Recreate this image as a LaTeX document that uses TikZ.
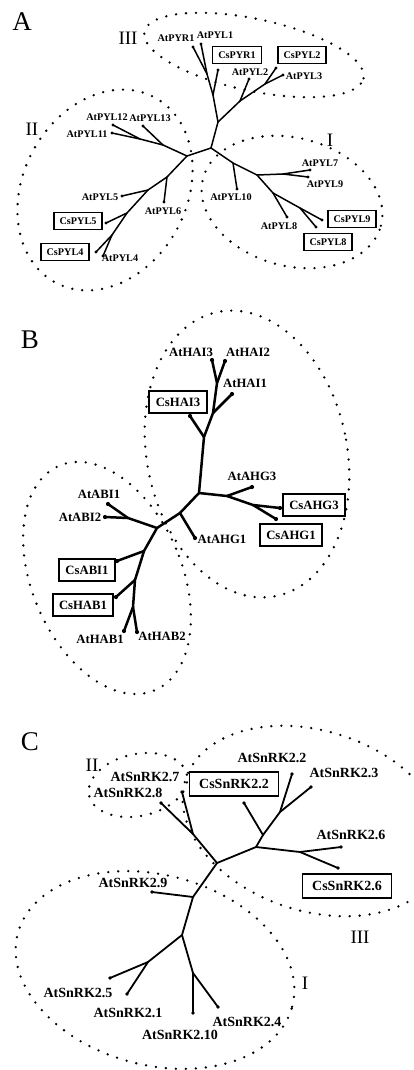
\documentclass[tikz,border=0pt]{standalone}
\usepackage{fontspec}
\setmainfont{Liberation Serif}
\begin{document}
\begin{tikzpicture}[x=1pt,y=-1pt,
  dotring/.style={line width=2.6pt, dash pattern=on 0pt off 10pt, line cap=round},
  brA/.style={line width=1.5pt, line cap=round, line join=round},
  brB/.style={line width=2.5pt, line cap=round, line join=round},
  brC/.style={line width=1.8pt, line cap=round, line join=round},
  panel/.style={inner sep=0pt, font=\fontsize{27}{27}\selectfont},
  roman/.style={inner sep=0pt, font=\fontsize{19}{19}\selectfont},
  labA/.style={inner sep=0pt, font=\fontsize{10.2}{11}\selectfont\bfseries},
  boxA/.style={labA, draw, line width=1.2pt, inner xsep=5.5pt, minimum height=17pt},
  labB/.style={inner sep=0pt, font=\fontsize{12.7}{14}\selectfont\bfseries},
  boxB/.style={labB, draw, line width=2pt, inner xsep=6.5pt, minimum height=22pt},
  labC/.style={inner sep=0pt, font=\fontsize{14}{16}\selectfont\bfseries},
  boxC/.style={labC, draw, line width=1.5pt, inner xsep=9.5pt, minimum height=24pt}
]
\useasboundingbox (0,0) rectangle (414,1070);

% ================= Panel A =================
\node[panel] (pA) at (22,22) {A};
\draw[dotring, rotate around={-12:(254,55)}] (254,55) ellipse [x radius=112pt, y radius=36pt];
\draw[dotring, rotate around={-28:(105,190)}] (105,190) ellipse [x radius=82pt, y radius=105pt];
\draw[dotring, rotate around={-15:(292,202)}] (292,202) ellipse [x radius=92pt, y radius=64pt];
\node[roman] (rA3) at (128,38) {III};
\node[roman] (rA2) at (32,129) {II};
\node[roman] (rA1) at (330,140) {I};

% tips
\coordinate (tPYR1) at (193,47);
\coordinate (tPYL1) at (201,44);
\coordinate (tCsPYR1) at (218,70);
\coordinate (tPYL2) at (249,79);
\coordinate (tCsPYL2) at (276,68);
\coordinate (tPYL3) at (283,75);
\coordinate (tPYL10) at (237,189);
\coordinate (tPYL7) at (310,170);
\coordinate (tPYL9) at (308,177);
\coordinate (tPYL8) at (287,217);
\coordinate (tCsPYL9) at (322,220);
\coordinate (tCsPYL8) at (316,227);
\coordinate (tPYL13) at (143,126);
\coordinate (tPYL11) at (112,133);
\coordinate (tPYL12) at (113,125);
\coordinate (tPYL6) at (164,202);
\coordinate (tPYL5) at (122,196);
\coordinate (tCsPYL5) at (106,223);
\coordinate (tCsPYL4) at (96,252);
\coordinate (tPYL4) at (103,256);
% internal
\coordinate (A1) at (207,74);
\coordinate (A2) at (213,95);
\coordinate (A3) at (218,122);
\coordinate (A4) at (240,101);
\coordinate (A5) at (265,84);
\coordinate (A6) at (211,148);
\coordinate (A7) at (187,156);
\coordinate (R1) at (233,163);
\coordinate (R2) at (257,175);
\coordinate (R3) at (283,174);
\coordinate (R4) at (273,193);
\coordinate (R5) at (300,208);
\coordinate (L1) at (163,145);
\coordinate (L2) at (140,139);
\coordinate (D1) at (167,177);
\coordinate (D2) at (148,190);
\coordinate (D3) at (127,213);
\coordinate (D4) at (112,235);

\draw[brA] (tPYR1) -- (A1) -- (A2) -- (A3) -- (A6) -- (A7);
\draw[brA] (tPYL1) -- (A1);
\draw[brA] (tCsPYR1) -- (A2);
\draw[brA] (A3) -- (A4) -- (A5) -- (tCsPYL2);
\draw[brA] (A4) -- (tPYL2);
\draw[brA] (A5) -- (tPYL3);
\draw[brA] (A6) -- (R1) -- (R2) -- (R4) -- (R5) -- (tCsPYL9);
\draw[brA] (R1) -- (tPYL10);
\draw[brA] (R2) -- (R3) -- (tPYL7);
\draw[brA] (R3) -- (tPYL9);
\draw[brA] (R4) -- (tPYL8);
\draw[brA] (R5) -- (tCsPYL8);
\draw[brA] (A7) -- (L1) -- (L2) -- (tPYL11);
\draw[brA] (L1) -- (tPYL13);
\draw[brA] (L2) -- (tPYL12);
\draw[brA] (A7) -- (D1) -- (D2) -- (D3) -- (D4) -- (tCsPYL4);
\draw[brA] (D1) -- (tPYL6);
\draw[brA] (D2) -- (tPYL5);
\draw[brA] (D3) -- (tCsPYL5);
\draw[brA] (D4) -- (tPYL4);
\foreach \t in {tPYR1,tPYL1,tCsPYR1,tPYL2,tCsPYL2,tPYL3,tPYL10,tPYL7,tPYL9,tPYL8,tCsPYL9,tCsPYL8,tPYL13,tPYL11,tPYL12,tPYL6,tPYL5,tCsPYL5,tCsPYL4,tPYL4}
  \fill (\t) circle (1.6pt);

\node[labA] (nPYR1) at (176,38) {AtPYR1};
\node[labA] (nPYL1) at (215,35) {AtPYL1};
\node[boxA] (nCsPYR1) at (237,55) {CsPYR1};
\node[boxA] (nCsPYL2) at (302,55) {CsPYL2};
\node[labA] (nPYL2) at (250,72) {AtPYL2};
\node[labA] (nPYL3) at (304,76) {AtPYL3};
\node[labA] (nPYL12) at (107,117) {AtPYL12};
\node[labA] (nPYL13) at (150,118) {AtPYL13};
\node[labA] (nPYL11) at (87,134) {AtPYL11};
\node[labA] (nPYL7) at (320,163) {AtPYL7};
\node[labA] (nPYL9) at (325,184) {AtPYL9};
\node[labA] (nPYL10) at (231,197) {AtPYL10};
\node[labA] (nPYL8) at (279,226) {AtPYL8};
\node[boxA] (nCsPYL9) at (352,219) {CsPYL9};
\node[boxA] (nCsPYL8) at (328,242) {CsPYL8};
\node[labA] (nPYL5) at (100,197) {AtPYL5};
\node[labA] (nPYL6) at (163,211) {AtPYL6};
\node[boxA] (nCsPYL5) at (78,221) {CsPYL5};
\node[boxA] (nCsPYL4) at (65,252) {CsPYL4};
\node[labA] (nPYL4) at (120,258) {AtPYL4};

% ================= Panel B =================
\node[panel] (pB) at (30,340) {B};
\draw[dotring, rotate around={11.8:(247,454)}] (247,454) ellipse [x radius=100pt, y radius=145pt];
\draw[dotring, rotate around={23:(107,578)}] (107,578) ellipse [x radius=75pt, y radius=122pt];

\coordinate (tHAI3) at (212,360);
\coordinate (tHAI2) at (225,361);
\coordinate (tHAI1) at (232,394);
\coordinate (tCsHAI3) at (190,416);
\coordinate (tAHG3) at (252,487);
\coordinate (tCsAHG3) at (280,508);
\coordinate (tCsAHG1) at (276,519);
\coordinate (tAHG1) at (195,538);
\coordinate (tABI1) at (108,504);
\coordinate (tABI2) at (105,517);
\coordinate (tCsABI1) at (117,561);
\coordinate (tCsHAB1) at (116,597);
\coordinate (tHAB1) at (124,631);
\coordinate (tHAB2) at (137,632);
\coordinate (B1) at (217,383);
\coordinate (B2) at (213,413);
\coordinate (B3) at (204,437);
\coordinate (B4) at (199,493);
\coordinate (B5) at (227,496);
\coordinate (B6) at (253,505);
\coordinate (B7) at (180,513);
\coordinate (B8) at (157,528);
\coordinate (B9) at (128,518);
\coordinate (B10) at (144,551);
\coordinate (B11) at (135,580);
\coordinate (B12) at (133,607);

\draw[brB] (tHAI3) -- (B1) -- (B2) -- (B3) -- (B4) -- (B7) -- (B8) -- (B10) -- (B11) -- (B12) -- (tHAB1);
\draw[brB] (tHAI2) -- (B1);
\draw[brB] (B2) -- (tHAI1);
\draw[brB] (B3) -- (tCsHAI3);
\draw[brB] (B4) -- (B5) -- (B6) -- (tCsAHG3);
\draw[brB] (B5) -- (tAHG3);
\draw[brB] (B6) -- (tCsAHG1);
\draw[brB] (B7) -- (tAHG1);
\draw[brB] (B8) -- (B9) -- (tABI1);
\draw[brB] (B9) -- (tABI2);
\draw[brB] (B10) -- (tCsABI1);
\draw[brB] (B11) -- (tCsHAB1);
\draw[brB] (B12) -- (tHAB2);
\foreach \t in {tHAI3,tHAI2,tHAI1,tCsHAI3,tAHG3,tCsAHG3,tCsAHG1,tAHG1,tABI1,tABI2,tCsABI1,tCsHAB1,tHAB1,tHAB2}
  \fill (\t) circle (2.1pt);

\node[labB] (nHAI3) at (191,352) {AtHAI3};
\node[labB] (nHAI2) at (248,352) {AtHAI2};
\node[labB] (nHAI1) at (245,383) {AtHAI1};
\node[boxB] (nCsHAI3) at (178,402) {CsHAI3};
\node[labB] (nAHG3) at (252,476) {AtAHG3};
\node[boxB] (nCsAHG3) at (314,505) {CsAHG3};
\node[boxB] (nCsAHG1) at (291,535) {CsAHG1};
\node[labB] (nAHG1) at (222,539) {AtAHG1};
\node[labB] (nABI1) at (99,494) {AtABI1};
\node[labB] (nABI2) at (80,517) {AtABI2};
\node[boxB] (nCsABI1) at (87,570) {CsABI1};
\node[boxB] (nCsHAB1) at (83,605) {CsHAB1};
\node[labB] (nHAB1) at (100,639) {AtHAB1};
\node[labB] (nHAB2) at (162,636) {AtHAB2};

% ================= Panel C =================
\node[panel] (pC) at (30,742) {C};
\draw[dotring, rotate around={12:(138,785)}] (138,785) ellipse [x radius=50pt, y radius=31pt];
\draw[dotring, rotate around={-18:(314,821)}] (314,821) ellipse [x radius=135pt, y radius=90pt];
\draw[dotring, rotate around={-15:(155,970)}] (155,970) ellipse [x radius=142pt, y radius=95pt];
\node[roman] (rC2) at (92,765) {II};
\node[roman] (rC3) at (360,937) {III};
\node[roman] (rC1) at (305,983) {I};

\coordinate (tS28) at (161,803);
\coordinate (tS27) at (182,792);
\coordinate (tCs22) at (244,803);
\coordinate (tS22) at (292,774);
\coordinate (tS23) at (311,787);
\coordinate (tS26) at (341,847);
\coordinate (tCs26) at (338,868);
\coordinate (tS29) at (152,892);
\coordinate (tS25) at (110,978);
\coordinate (tS21) at (127,994);
\coordinate (tS210) at (193,1013);
\coordinate (tS24) at (218,1007);
\coordinate (C0) at (217,863);
\coordinate (C1) at (193,834);
\coordinate (C2) at (256,847);
\coordinate (C3) at (263,835);
\coordinate (C4) at (280,812);
\coordinate (C5) at (300,852);
\coordinate (C6) at (193,897);
\coordinate (C7) at (182,935);
\coordinate (C8) at (148,962);
\coordinate (C9) at (193,973);

\draw[brC] (tS28) -- (C1) -- (C0) -- (C2) -- (C3) -- (C4) -- (tS22);
\draw[brC] (tS27) -- (C1);
\draw[brC] (C3) -- (tCs22);
\draw[brC] (C4) -- (tS23);
\draw[brC] (C2) -- (C5) -- (tS26);
\draw[brC] (C5) -- (tCs26);
\draw[brC] (C0) -- (C6) -- (C7) -- (C8) -- (tS25);
\draw[brC] (C6) -- (tS29);
\draw[brC] (C8) -- (tS21);
\draw[brC] (C7) -- (C9) -- (tS24);
\draw[brC] (C9) -- (tS210);
\foreach \t in {tS28,tS27,tCs22,tS22,tS23,tS26,tCs26,tS29,tS25,tS21,tS210,tS24}
  \fill (\t) circle (1.9pt);

\node[labC] (nS27) at (145,777) {AtSnRK2.7};
\node[labC] (nS28) at (128,793) {AtSnRK2.8};
\node[boxC] (nCs22) at (234,784) {CsSnRK2.2};
\node[labC] (nS22) at (272,758) {AtSnRK2.2};
\node[labC] (nS23) at (344,773) {AtSnRK2.3};
\node[labC] (nS26) at (351,835) {AtSnRK2.6};
\node[boxC] (nCs26) at (347,886) {CsSnRK2.6};
\node[labC] (nS29) at (133,883) {AtSnRK2.9};
\node[labC] (nS25) at (78,993) {AtSnRK2.5};
\node[labC] (nS21) at (128,1013) {AtSnRK2.1};
\node[labC] (nS210) at (180,1035) {AtSnRK2.10};
\node[labC] (nS24) at (247,1022) {AtSnRK2.4};
\end{tikzpicture}
\end{document}
